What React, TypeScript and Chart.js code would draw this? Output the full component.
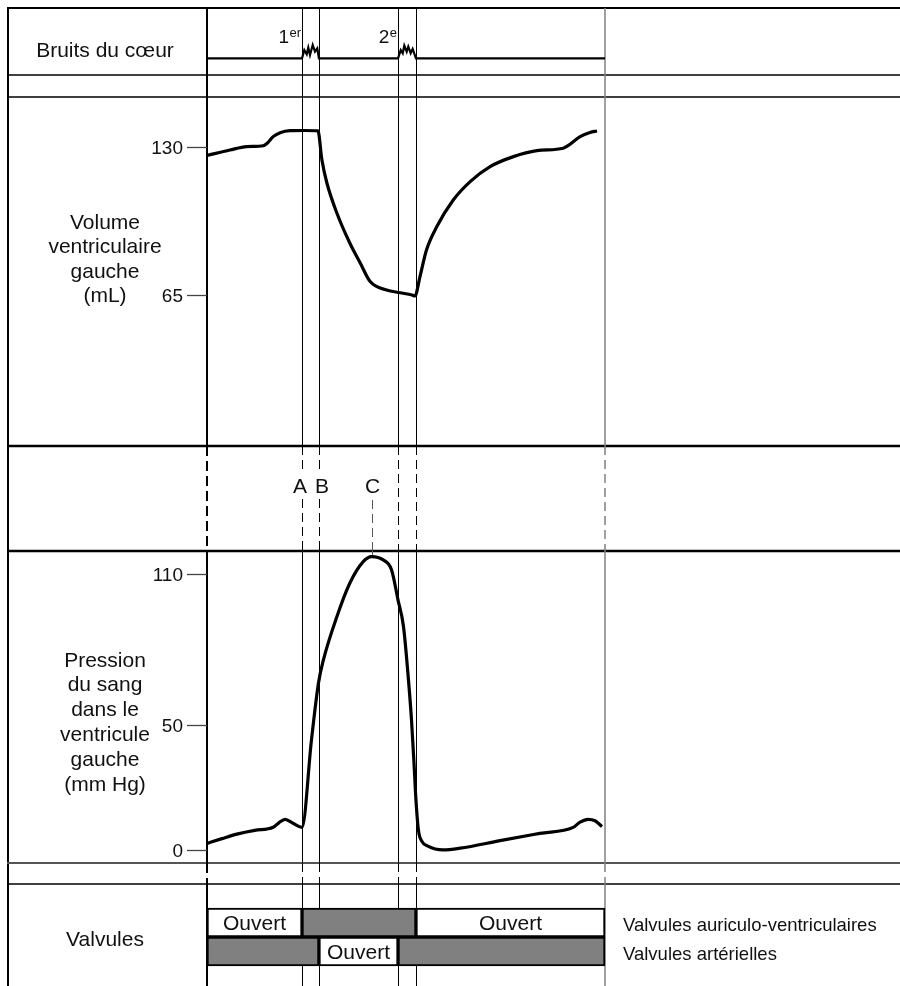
import React, { useEffect, useRef } from "react";
import { Chart, registerables } from "chart.js";
Chart.register(...registerables);

// ---------- DATA ----------
// time in seconds over one cardiac cycle
const CYCLE_END = 0.8;
const phaseTimes = [0.191, 0.225, 0.384, 0.42]; // A, B, 2nd-sound start, 2nd-sound end
const phaseLetters = ["A", "B"];
const peakTimeC = 0.331;
const peakLetter = "C";

// heart sounds trace (relative amplitude)
const heartTimes = [0, 0.191, 0.1956, 0.2004, 0.2036, 0.207, 0.2125, 0.2171, 0.2217, 0.225, 0.384, 0.3894, 0.3934, 0.3966, 0.4014, 0.4046, 0.4094, 0.4134, 0.42, 0.8];
const heartAmp = [0, 0, 0.62, 0.3, 0.8, 0.25, 1, 0.5, 0.75, 0, 0, 0.62, 0.38, 0.95, 0.5, 0.87, 0.38, 0.7, 0, 0];
const heartSoundLabels = [
  { main: "1", sup: "er" },
  { main: "2", sup: "e" },
];

// left ventricular volume (mL)
const volumeTimes = [0, 0.046, 0.08, 0.113, 0.121, 0.133, 0.147, 0.167, 0.197, 0.223, 0.231, 0.241, 0.261, 0.287, 0.308, 0.328, 0.361, 0.388, 0.412, 0.418, 0.428, 0.441, 0.462, 0.495, 0.529, 0.569, 0.616, 0.663, 0.716, 0.724, 0.75, 0.77, 0.784];
const volumeValues = [126.4, 128.8, 130.3, 130.7, 131.8, 134.7, 136.4, 137.3, 137.4, 137.2, 124.4, 114.3, 101.1, 87.9, 79.1, 70.9, 67.2, 66.0, 65.0, 64.6, 73.0, 84.7, 95.1, 106.8, 114.9, 121.5, 125.9, 128.5, 129.6, 130.5, 134.7, 136.5, 137.2];
const volumeTicks = [130, 65];

// left ventricular pressure (mm Hg)
const pressureTimes = [0, 0.03, 0.06, 0.096, 0.133, 0.145, 0.157, 0.173, 0.191, 0.21, 0.224, 0.234, 0.261, 0.287, 0.314, 0.331, 0.354, 0.371, 0.384, 0.395, 0.404, 0.411, 0.416, 0.42, 0.425, 0.432, 0.444, 0.474, 0.509, 0.589, 0.669, 0.736, 0.75, 0.766, 0.78, 0.794];
const pressureValues = [2.7, 4.6, 6.4, 7.9, 9.1, 11.0, 12.3, 10.7, 9.1, 43.9, 66.4, 75.7, 92.9, 106.2, 114.8, 116.8, 115.5, 111.5, 99.5, 88.9, 70, 52, 35, 20, 8, 3.5, 1.6, 0.1, 0.8, 3.8, 6.7, 9.1, 11.2, 12.3, 11.7, 9.4];
const pressureTicks = [110, 50, 0];

// valves: row 1 = auriculo-ventriculaires, row 0 = artérielles
const valveRowNames = ["Valvules artérielles", "Valvules auriculo-ventriculaires"];
const valveSegStart = [0, 0.191, 0.42, 0, 0.225, 0.384];
const valveSegEnd = [0.191, 0.42, 0.8, 0.225, 0.384, 0.8];
const valveSegRow = [1, 1, 1, 0, 0, 0];
const valveSegOpen = [true, false, true, false, true, false];
const openLabel = "Ouvert";

const sectionLabels = {
  heart: ["Bruits du cœur"],
  volume: ["Volume", "ventriculaire", "gauche", "(mL)"],
  pressure: ["Pression", "du sang", "dans le", "ventricule", "gauche", "(mm Hg)"],
  valves: ["Valvules"],
};

// ---------- LAYOUT ----------
const W = 900;
const H = 986;
const L = {
  border: 8,
  axisX: 207,
  plotRight: 605,
  heartRowBottom: 75,
  heartGapBottom: 97,
  volBottom: 446,
  presTop: 551,
  presBottom: 863,
  valveTop: 884,
  labelCX: 105,
};
// value/pixel anchors for the hidden vertical scales
const ANCH = {
  heart: [0, 58.3, 1, 45],
  vol: [130, 147.3, 65, 295],
  pres: [0, 850.2, 110, 573.7],
  valve: [1, 922.5, 0, 951.5],
};
const FONT = '"Liberation Sans", Arial, Helvetica, sans-serif';

function fitRange(a: number[], top: number, bottom: number) {
  const [v1, p1, v2, p2] = a;
  const k = (p2 - p1) / (v2 - v1);
  return { min: v1 + (bottom - p1) / k, max: v1 + (top - p1) / k };
}

function hLine(ctx: CanvasRenderingContext2D, y: number, w: number, color: string) {
  ctx.beginPath();
  ctx.strokeStyle = color;
  ctx.lineWidth = w;
  ctx.setLineDash([]);
  ctx.moveTo(L.border - 1, y);
  ctx.lineTo(W, y);
  ctx.stroke();
}

function vSeg(ctx: CanvasRenderingContext2D, x: number, y0: number, y1: number, w: number, color: string, dash: number[]) {
  ctx.beginPath();
  ctx.strokeStyle = color;
  ctx.lineWidth = w;
  ctx.setLineDash(dash);
  ctx.lineDashOffset = 0;
  ctx.moveTo(x, y0);
  ctx.lineTo(x, y1);
  ctx.stroke();
}

const tablePlugin = {
  id: "tablePlugin",
  beforeDatasetsDraw(chart: any) {
    const ctx: CanvasRenderingContext2D = chart.ctx;
    const xs = chart.scales.x;
    ctx.save();
    // left border
    vSeg(ctx, L.border, L.border - 1, H, 2, "#000", []);
    // horizontal rules
    hLine(ctx, L.border, 2, "#000");
    hLine(ctx, L.heartRowBottom, 1.5, "#000");
    hLine(ctx, L.heartGapBottom, 1.5, "#000");
    hLine(ctx, L.volBottom, 2.5, "#000");
    hLine(ctx, L.presTop, 2.5, "#000");
    hLine(ctx, L.presBottom, 2, "#555");
    hLine(ctx, L.valveTop, 1.5, "#000");

    const lines = [
      { t: 0, w: 2, c: "#000", dash: [10, 5], off: 0, letter: "" },
      ...phaseTimes.map((t, i) => ({ t, w: 1, c: "#000", dash: [9, 5], off: 0.5, letter: phaseLetters[i] || "" })),
      { t: CYCLE_END, w: 1.5, c: "#808080", dash: [9, 5], off: 0, letter: "" },
    ];
    for (const ln of lines) {
      const x = Math.round(xs.getPixelForValue(ln.t)) + ln.off;
      vSeg(ctx, x, L.border, L.volBottom, ln.w, ln.c, []);
      if (ln.letter) {
        vSeg(ctx, x, L.volBottom, 473, ln.w, ln.c, ln.dash);
        vSeg(ctx, x, 499, L.presTop, ln.w, ln.c, ln.dash);
      } else {
        vSeg(ctx, x, L.volBottom, L.presTop, ln.w, ln.c, ln.dash);
      }
      vSeg(ctx, x, L.presTop, L.presBottom, ln.w, ln.c, []);
      vSeg(ctx, x, L.presBottom, L.valveTop, ln.w, ln.c, ln.dash);
      vSeg(ctx, x, L.valveTop, H, ln.w, ln.c, []);
    }
    // C marker
    const yP = chart.scales.yPres;
    const cx = Math.round(xs.getPixelForValue(peakTimeC)) + 0.5;
    vSeg(ctx, cx, 500, L.presTop, 1, "#555", [9, 5]);
    vSeg(ctx, cx, L.presTop, yP.getPixelForValue(116.8) - 1, 1, "#555", []);

    // y ticks
    const drawTicks = (scale: any, ticks: number[]) => {
      ctx.font = `19px ${FONT}`;
      ctx.fillStyle = "#111";
      ctx.textAlign = "right";
      ctx.textBaseline = "middle";
      for (const v of ticks) {
        const y = Math.round(scale.getPixelForValue(v)) + 0.5;
        ctx.beginPath();
        ctx.setLineDash([]);
        ctx.strokeStyle = "#444";
        ctx.lineWidth = 1.3;
        ctx.moveTo(L.axisX - 20, y);
        ctx.lineTo(L.axisX, y);
        ctx.stroke();
        ctx.fillText(String(v), L.axisX - 24, y + 1);
      }
    };
    drawTicks(chart.scales.yVol, volumeTicks);
    drawTicks(chart.scales.yPres, pressureTicks);
    ctx.restore();
  },
  afterDatasetsDraw(chart: any) {
    const ctx: CanvasRenderingContext2D = chart.ctx;
    const xs = chart.scales.x;
    const yV = chart.scales.yValve;
    ctx.save();
    ctx.fillStyle = "#111";
    // section labels
    ctx.textAlign = "center";
    ctx.textBaseline = "alphabetic";
    ctx.font = `21px ${FONT}`;
    ctx.fillText(sectionLabels.heart[0], L.labelCX, 56.5);
    sectionLabels.volume.forEach((s, i) => ctx.fillText(s, L.labelCX, 228.5 + i * 24.5));
    sectionLabels.pressure.forEach((s, i) => ctx.fillText(s, L.labelCX, 666.5 + i * 24.8));
    ctx.fillText(sectionLabels.valves[0], L.labelCX, 946);

    // heart sound labels
    const hs = [phaseTimes[0], phaseTimes[2]];
    heartSoundLabels.forEach((lb, i) => {
      const x = xs.getPixelForValue(hs[i]);
      ctx.textAlign = "right";
      ctx.font = `13px ${FONT}`;
      const supW = ctx.measureText(lb.sup).width;
      ctx.fillText(lb.sup, x - 1, 37);
      ctx.font = `19px ${FONT}`;
      ctx.fillText(lb.main, x - 1 - supW - 0.5, 42.5);
    });

    // A, B, C letters
    ctx.font = `21px ${FONT}`;
    ctx.textAlign = "center";
    ctx.textBaseline = "alphabetic";
    const letterDx = [-2, 3];
    phaseLetters.forEach((s, i) => {
      ctx.fillText(s, xs.getPixelForValue(phaseTimes[i]) + letterDx[i], 493);
    });
    ctx.fillText(peakLetter, xs.getPixelForValue(peakTimeC) + 1, 493);

    // valve labels
    ctx.font = `21px ${FONT}`;
    ctx.textAlign = "center";
    valveSegOpen.forEach((open, i) => {
      if (!open) return;
      const x = xs.getPixelForValue((valveSegStart[i] + valveSegEnd[i]) / 2);
      const y = yV.getPixelForValue(valveSegRow[i]);
      ctx.fillText(openLabel, x, y + 7.5);
    });
    ctx.font = `18.5px ${FONT}`;
    ctx.textAlign = "left";
    valveRowNames.forEach((s, r) => {
      ctx.fillText(s, L.plotRight + 18, yV.getPixelForValue(r) + 8);
    });
    ctx.restore();
  },
};

export default function App() {
  const ref = useRef<HTMLCanvasElement | null>(null);
  useEffect(() => {
    if (!ref.current) return;
    const top = 0;
    const bottom = H;
    const chart = new Chart(ref.current, {
      type: "line",
      data: {
        datasets: [
          {
            label: "Bruits du cœur",
            data: heartTimes.map((t, i) => ({ x: t, y: heartAmp[i] })),
            yAxisID: "yHeart",
            borderColor: "#000",
            borderWidth: 2.2,
            pointRadius: 0,
            tension: 0,
            fill: false,
            clip: false,
          } as any,
          {
            label: "Volume ventriculaire gauche",
            data: volumeTimes.map((t, i) => ({ x: t, y: volumeValues[i] })),
            yAxisID: "yVol",
            borderColor: "#000",
            borderWidth: 3.2,
            borderJoinStyle: "round",
            pointRadius: 0,
            cubicInterpolationMode: "monotone",
            fill: false,
            clip: false,
          } as any,
          {
            label: "Pression du sang dans le ventricule gauche",
            data: pressureTimes.map((t, i) => ({ x: t, y: pressureValues[i] })),
            yAxisID: "yPres",
            borderColor: "#000",
            borderWidth: 3.2,
            borderJoinStyle: "round",
            pointRadius: 0,
            cubicInterpolationMode: "monotone",
            fill: false,
            clip: false,
          } as any,
          {
            type: "bar",
            label: "Valvules",
            indexAxis: "y",
            data: valveSegStart.map((s, i) => ({ x: [s, valveSegEnd[i]], y: valveSegRow[i] })),
            xAxisID: "x",
            yAxisID: "yValve",
            backgroundColor: valveSegOpen.map((o) => (o ? "#ffffff" : "#808080")),
            borderColor: "#000",
            borderWidth: 2,
            borderSkipped: false,
            barThickness: 29,
            grouped: false,
            clip: false,
          } as any,
        ],
      },
      options: {
        responsive: false,
        animation: false,
        devicePixelRatio: 1,
        events: [],
        layout: { padding: { left: L.axisX, right: W - L.plotRight, top, bottom: 0 } },
        plugins: { legend: { display: false }, tooltip: { enabled: false } },
        scales: {
          x: { type: "linear", display: false, offset: false, beginAtZero: false, min: 0, max: CYCLE_END },
          yHeart: { type: "linear", display: false, offset: false, ...fitRange(ANCH.heart, top, bottom) },
          yVol: { type: "linear", display: false, offset: false, ...fitRange(ANCH.vol, top, bottom) },
          yPres: { type: "linear", display: false, offset: false, ...fitRange(ANCH.pres, top, bottom) },
          yValve: { type: "linear", display: false, offset: false, grid: { offset: false }, ...fitRange(ANCH.valve, top, bottom) },
        },
      } as any,
      plugins: [tablePlugin],
    });
    return () => chart.destroy();
  }, []);
  return (
    <div style={{ position: "fixed", left: 0, top: 0, width: W, height: H, background: "#fff" }}>
      <canvas ref={ref} width={W} height={H} style={{ display: "block", width: W, height: H }} />
    </div>
  );
}
